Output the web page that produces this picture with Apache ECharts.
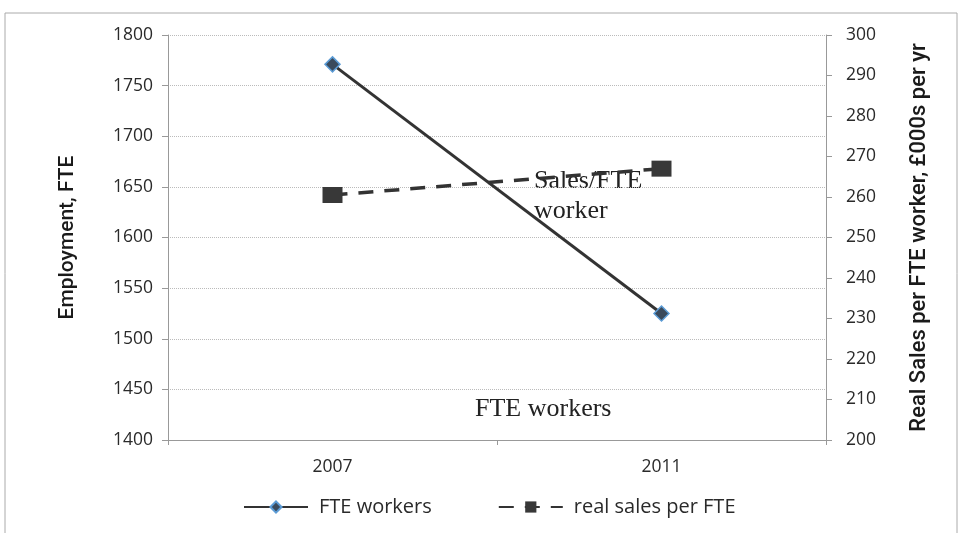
<!DOCTYPE html>
<html><head><meta charset="utf-8">
<script src="https://cdn.jsdelivr.net/npm/echarts@6/dist/echarts.min.js"></script>
<style>html,body{margin:0;padding:0;background:#fff}#c{width:960px;height:533px}</style>
</head><body><div id="c"></div>
<script>
const categories = ['2007', '2011'];
const fteWorkers = [1771, 1525];
const salesPerFte = [260.5, 267];
const leftTicks = {min: 1400, max: 1800, interval: 50};
const rightTicks = {min: 200, max: 300, interval: 10};

const chart = echarts.init(document.getElementById('c'));
const tickFont = {fontFamily: 'Open Sans', fontSize: 17.5, color: '#2a2a2a', formatter: v => String(v)};
const titleFont = {fontFamily: 'Roboto', fontSize: 21, fontWeight: 500, color: '#1a1a1a'};
chart.setOption({
  animation: false,
  grid: {left: 168, right: 134, top: 35, bottom: 93},
  xAxis: {
    type: 'category', data: categories, boundaryGap: true,
    axisLine: {lineStyle: {color: '#999'}},
    axisTick: {show: true, inside: false, length: 5, lineStyle: {color: '#999'}},
    axisLabel: Object.assign({}, tickFont, {margin: 18})
  },
  yAxis: [{
    type: 'value', min: leftTicks.min, max: leftTicks.max, interval: leftTicks.interval,
    position: 'left',
    name: 'Employment, FTE', nameLocation: 'middle', nameGap: 90,
    nameTextStyle: titleFont,
    axisLine: {show: true, lineStyle: {color: '#999'}},
    axisTick: {show: true, length: 6, lineStyle: {color: '#999'}},
    axisLabel: Object.assign({}, tickFont, {margin: 15}),
    splitLine: {show: true, lineStyle: {color: '#bbb', type: 'dotted'}}
  }, {
    type: 'value', min: rightTicks.min, max: rightTicks.max, interval: rightTicks.interval,
    position: 'right',
    name: 'Real Sales per FTE worker, £000s per yr', nameLocation: 'middle', nameGap: 82,
    nameRotate: 90,
    nameTextStyle: Object.assign({}, titleFont, {fontSize: 22}),
    axisLine: {show: true, lineStyle: {color: '#999'}},
    axisTick: {show: true, length: 6, lineStyle: {color: '#999'}},
    axisLabel: Object.assign({}, tickFont, {margin: 20}),
    splitLine: {show: false}
  }],
  legend: {
    bottom: 11, left: 238, itemGap: 66, itemWidth: 64, itemHeight: 14,
    textStyle: {fontFamily: 'Open Sans', fontSize: 20, color: '#2a2a2a', padding: [0, 0, 0, 6]},
    data: ['FTE workers', 'real sales per FTE']
  },
  series: [{
    name: 'FTE workers', type: 'line', yAxisIndex: 0, data: fteWorkers,
    symbol: 'diamond', symbolSize: 15,
    itemStyle: {color: '#3a4a5c', borderColor: '#5b9bd5', borderWidth: 1.5},
    lineStyle: {color: '#333', width: 3}
  }, {
    name: 'real sales per FTE', type: 'line', yAxisIndex: 1, data: salesPerFte,
    symbol: 'rect', symbolSize: [20, 16],
    itemStyle: {color: '#383838'},
    lineStyle: {color: '#333', width: 3.5, type: [15, 11]}
  }],
  graphic: [
    {type: 'rect', shape: {x: 5, y: 13, width: 952, height: 530},
     style: {fill: 'none', stroke: '#aaa', lineWidth: 1}, silent: true},
    {type: 'text', left: 534, top: 166,
     style: {text: 'Sales/FTE\nworker', font: '26px "Liberation Serif"', fill: '#222', lineHeight: 30}},
    {type: 'text', left: 475, top: 396,
     style: {text: 'FTE workers', font: '26px "Liberation Serif"', fill: '#222'}}
  ]
});
</script></body></html>
